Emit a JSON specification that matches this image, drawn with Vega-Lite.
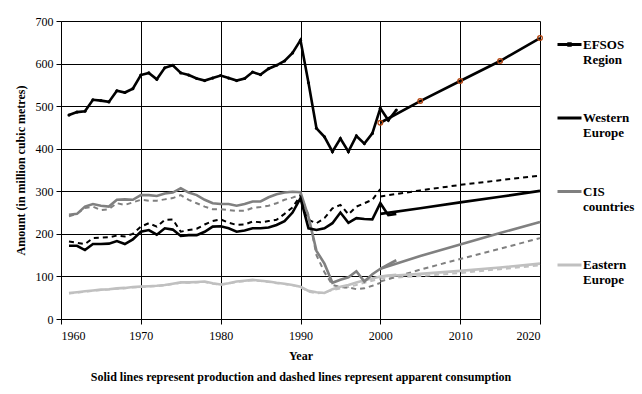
{
  "$schema": "https://vega.github.io/schema/vega-lite/v6.json",
  "width": 479,
  "height": 298,
  "autosize": {"type": "none"},
  "padding": {"left": 61, "top": 21, "right": 102, "bottom": 75},
  "background": "#ffffff",
  "config": {
    "view": {"stroke": null},
    "font": "Liberation Serif",
    "axis": {
      "labelFont": "Liberation Serif", "labelFontSize": 12, "labelColor": "#000000",
      "titleFont": "Liberation Serif", "titleFontSize": 12, "titleFontWeight": "bold", "titleColor": "#000000",
      "domainColor": "#000000", "tickColor": "#000000", "gridColor": "#000000", "gridOpacity": 1, "gridWidth": 1, "tickSize": 5
    },
    "legend": {
      "labelFont": "Liberation Serif", "labelFontSize": 13, "labelFontWeight": "bold", "labelColor": "#000000"
    }
  },
  "datasets": {
    "prod": [
      {"region":"Eastern Europe","phase":"hist","year":1961,"value":61},{"region":"Eastern Europe","phase":"hist","year":1962,"value":63},{"region":"Eastern Europe","phase":"hist","year":1963,"value":65},{"region":"Eastern Europe","phase":"hist","year":1964,"value":67},{"region":"Eastern Europe","phase":"hist","year":1965,"value":69},{"region":"Eastern Europe","phase":"hist","year":1966,"value":70},{"region":"Eastern Europe","phase":"hist","year":1967,"value":72},{"region":"Eastern Europe","phase":"hist","year":1968,"value":73},{"region":"Eastern Europe","phase":"hist","year":1969,"value":75},{"region":"Eastern Europe","phase":"hist","year":1970,"value":76},{"region":"Eastern Europe","phase":"hist","year":1971,"value":77},{"region":"Eastern Europe","phase":"hist","year":1972,"value":78},{"region":"Eastern Europe","phase":"hist","year":1973,"value":80},{"region":"Eastern Europe","phase":"hist","year":1974,"value":83},{"region":"Eastern Europe","phase":"hist","year":1975,"value":86},{"region":"Eastern Europe","phase":"hist","year":1976,"value":86},{"region":"Eastern Europe","phase":"hist","year":1977,"value":87},{"region":"Eastern Europe","phase":"hist","year":1978,"value":88},{"region":"Eastern Europe","phase":"hist","year":1979,"value":84},{"region":"Eastern Europe","phase":"hist","year":1980,"value":81},{"region":"Eastern Europe","phase":"hist","year":1981,"value":84},{"region":"Eastern Europe","phase":"hist","year":1982,"value":88},{"region":"Eastern Europe","phase":"hist","year":1983,"value":90},{"region":"Eastern Europe","phase":"hist","year":1984,"value":92},{"region":"Eastern Europe","phase":"hist","year":1985,"value":90},{"region":"Eastern Europe","phase":"hist","year":1986,"value":88},{"region":"Eastern Europe","phase":"hist","year":1987,"value":85},{"region":"Eastern Europe","phase":"hist","year":1988,"value":83},{"region":"Eastern Europe","phase":"hist","year":1989,"value":80},{"region":"Eastern Europe","phase":"hist","year":1990,"value":76},{"region":"Eastern Europe","phase":"hist","year":1991,"value":66},{"region":"Eastern Europe","phase":"hist","year":1992,"value":63},{"region":"Eastern Europe","phase":"hist","year":1993,"value":61},{"region":"Eastern Europe","phase":"hist","year":1994,"value":70},{"region":"Eastern Europe","phase":"hist","year":1995,"value":76},{"region":"Eastern Europe","phase":"hist","year":1996,"value":80},{"region":"Eastern Europe","phase":"hist","year":1997,"value":86},{"region":"Eastern Europe","phase":"hist","year":1998,"value":91},{"region":"Eastern Europe","phase":"hist","year":1999,"value":95},{"region":"Eastern Europe","phase":"hist","year":2000,"value":100},{"region":"Eastern Europe","phase":"hist","year":2001,"value":102},{"region":"Eastern Europe","phase":"hist","year":2002,"value":104},
      {"region":"Eastern Europe","phase":"proj","year":2000,"value":100},{"region":"Eastern Europe","phase":"proj","year":2005,"value":106},{"region":"Eastern Europe","phase":"proj","year":2010,"value":113},{"region":"Eastern Europe","phase":"proj","year":2015,"value":121},{"region":"Eastern Europe","phase":"proj","year":2020,"value":130},
      {"region":"CIS countries","phase":"hist","year":1961,"value":245},{"region":"CIS countries","phase":"hist","year":1962,"value":247},{"region":"CIS countries","phase":"hist","year":1963,"value":264},{"region":"CIS countries","phase":"hist","year":1964,"value":270},{"region":"CIS countries","phase":"hist","year":1965,"value":266},{"region":"CIS countries","phase":"hist","year":1966,"value":264},{"region":"CIS countries","phase":"hist","year":1967,"value":280},{"region":"CIS countries","phase":"hist","year":1968,"value":281},{"region":"CIS countries","phase":"hist","year":1969,"value":280},{"region":"CIS countries","phase":"hist","year":1970,"value":291},{"region":"CIS countries","phase":"hist","year":1971,"value":291},{"region":"CIS countries","phase":"hist","year":1972,"value":289},{"region":"CIS countries","phase":"hist","year":1973,"value":295},{"region":"CIS countries","phase":"hist","year":1974,"value":297},{"region":"CIS countries","phase":"hist","year":1975,"value":307},{"region":"CIS countries","phase":"hist","year":1976,"value":297},{"region":"CIS countries","phase":"hist","year":1977,"value":291},{"region":"CIS countries","phase":"hist","year":1978,"value":280},{"region":"CIS countries","phase":"hist","year":1979,"value":272},{"region":"CIS countries","phase":"hist","year":1980,"value":270},{"region":"CIS countries","phase":"hist","year":1981,"value":270},{"region":"CIS countries","phase":"hist","year":1982,"value":266},{"region":"CIS countries","phase":"hist","year":1983,"value":270},{"region":"CIS countries","phase":"hist","year":1984,"value":276},{"region":"CIS countries","phase":"hist","year":1985,"value":276},{"region":"CIS countries","phase":"hist","year":1986,"value":286},{"region":"CIS countries","phase":"hist","year":1987,"value":293},{"region":"CIS countries","phase":"hist","year":1988,"value":297},{"region":"CIS countries","phase":"hist","year":1989,"value":299},{"region":"CIS countries","phase":"hist","year":1990,"value":298},{"region":"CIS countries","phase":"hist","year":1991,"value":240},{"region":"CIS countries","phase":"hist","year":1992,"value":160},{"region":"CIS countries","phase":"hist","year":1993,"value":130},{"region":"CIS countries","phase":"hist","year":1994,"value":85},{"region":"CIS countries","phase":"hist","year":1995,"value":92},{"region":"CIS countries","phase":"hist","year":1996,"value":98},{"region":"CIS countries","phase":"hist","year":1997,"value":112},{"region":"CIS countries","phase":"hist","year":1998,"value":88},{"region":"CIS countries","phase":"hist","year":1999,"value":105},{"region":"CIS countries","phase":"hist","year":2000,"value":118},{"region":"CIS countries","phase":"hist","year":2001,"value":128},{"region":"CIS countries","phase":"hist","year":2002,"value":138},
      {"region":"CIS countries","phase":"proj","year":2000,"value":118},{"region":"CIS countries","phase":"proj","year":2005,"value":148},{"region":"CIS countries","phase":"proj","year":2010,"value":175},{"region":"CIS countries","phase":"proj","year":2015,"value":202},{"region":"CIS countries","phase":"proj","year":2020,"value":228},
      {"region":"Western Europe","phase":"hist","year":1961,"value":172},{"region":"Western Europe","phase":"hist","year":1962,"value":172},{"region":"Western Europe","phase":"hist","year":1963,"value":162},{"region":"Western Europe","phase":"hist","year":1964,"value":176},{"region":"Western Europe","phase":"hist","year":1965,"value":176},{"region":"Western Europe","phase":"hist","year":1966,"value":177},{"region":"Western Europe","phase":"hist","year":1967,"value":183},{"region":"Western Europe","phase":"hist","year":1968,"value":176},{"region":"Western Europe","phase":"hist","year":1969,"value":187},{"region":"Western Europe","phase":"hist","year":1970,"value":205},{"region":"Western Europe","phase":"hist","year":1971,"value":209},{"region":"Western Europe","phase":"hist","year":1972,"value":198},{"region":"Western Europe","phase":"hist","year":1973,"value":213},{"region":"Western Europe","phase":"hist","year":1974,"value":210},{"region":"Western Europe","phase":"hist","year":1975,"value":195},{"region":"Western Europe","phase":"hist","year":1976,"value":197},{"region":"Western Europe","phase":"hist","year":1977,"value":197},{"region":"Western Europe","phase":"hist","year":1978,"value":205},{"region":"Western Europe","phase":"hist","year":1979,"value":217},{"region":"Western Europe","phase":"hist","year":1980,"value":218},{"region":"Western Europe","phase":"hist","year":1981,"value":213},{"region":"Western Europe","phase":"hist","year":1982,"value":205},{"region":"Western Europe","phase":"hist","year":1983,"value":208},{"region":"Western Europe","phase":"hist","year":1984,"value":213},{"region":"Western Europe","phase":"hist","year":1985,"value":213},{"region":"Western Europe","phase":"hist","year":1986,"value":215},{"region":"Western Europe","phase":"hist","year":1987,"value":221},{"region":"Western Europe","phase":"hist","year":1988,"value":230},{"region":"Western Europe","phase":"hist","year":1989,"value":250},{"region":"Western Europe","phase":"hist","year":1990,"value":284},{"region":"Western Europe","phase":"hist","year":1991,"value":213},{"region":"Western Europe","phase":"hist","year":1992,"value":209},{"region":"Western Europe","phase":"hist","year":1993,"value":213},{"region":"Western Europe","phase":"hist","year":1994,"value":225},{"region":"Western Europe","phase":"hist","year":1995,"value":250},{"region":"Western Europe","phase":"hist","year":1996,"value":226},{"region":"Western Europe","phase":"hist","year":1997,"value":237},{"region":"Western Europe","phase":"hist","year":1998,"value":235},{"region":"Western Europe","phase":"hist","year":1999,"value":234},{"region":"Western Europe","phase":"hist","year":2000,"value":272},{"region":"Western Europe","phase":"hist","year":2001,"value":244},{"region":"Western Europe","phase":"hist","year":2002,"value":247},
      {"region":"Western Europe","phase":"proj","year":2000,"value":247},{"region":"Western Europe","phase":"proj","year":2005,"value":260},{"region":"Western Europe","phase":"proj","year":2010,"value":274},{"region":"Western Europe","phase":"proj","year":2015,"value":287},{"region":"Western Europe","phase":"proj","year":2020,"value":301},
      {"region":"EFSOS Region","phase":"hist","year":1961,"value":479},{"region":"EFSOS Region","phase":"hist","year":1962,"value":486},{"region":"EFSOS Region","phase":"hist","year":1963,"value":488},{"region":"EFSOS Region","phase":"hist","year":1964,"value":515},{"region":"EFSOS Region","phase":"hist","year":1965,"value":513},{"region":"EFSOS Region","phase":"hist","year":1966,"value":510},{"region":"EFSOS Region","phase":"hist","year":1967,"value":536},{"region":"EFSOS Region","phase":"hist","year":1968,"value":532},{"region":"EFSOS Region","phase":"hist","year":1969,"value":541},{"region":"EFSOS Region","phase":"hist","year":1970,"value":573},{"region":"EFSOS Region","phase":"hist","year":1971,"value":578},{"region":"EFSOS Region","phase":"hist","year":1972,"value":563},{"region":"EFSOS Region","phase":"hist","year":1973,"value":590},{"region":"EFSOS Region","phase":"hist","year":1974,"value":596},{"region":"EFSOS Region","phase":"hist","year":1975,"value":578},{"region":"EFSOS Region","phase":"hist","year":1976,"value":573},{"region":"EFSOS Region","phase":"hist","year":1977,"value":565},{"region":"EFSOS Region","phase":"hist","year":1978,"value":560},{"region":"EFSOS Region","phase":"hist","year":1979,"value":566},{"region":"EFSOS Region","phase":"hist","year":1980,"value":572},{"region":"EFSOS Region","phase":"hist","year":1981,"value":566},{"region":"EFSOS Region","phase":"hist","year":1982,"value":560},{"region":"EFSOS Region","phase":"hist","year":1983,"value":565},{"region":"EFSOS Region","phase":"hist","year":1984,"value":580},{"region":"EFSOS Region","phase":"hist","year":1985,"value":574},{"region":"EFSOS Region","phase":"hist","year":1986,"value":588},{"region":"EFSOS Region","phase":"hist","year":1987,"value":596},{"region":"EFSOS Region","phase":"hist","year":1988,"value":606},{"region":"EFSOS Region","phase":"hist","year":1989,"value":625},{"region":"EFSOS Region","phase":"hist","year":1990,"value":655},{"region":"EFSOS Region","phase":"hist","year":1991,"value":555},{"region":"EFSOS Region","phase":"hist","year":1992,"value":448},{"region":"EFSOS Region","phase":"hist","year":1993,"value":428},{"region":"EFSOS Region","phase":"hist","year":1994,"value":393},{"region":"EFSOS Region","phase":"hist","year":1995,"value":424},{"region":"EFSOS Region","phase":"hist","year":1996,"value":393},{"region":"EFSOS Region","phase":"hist","year":1997,"value":430},{"region":"EFSOS Region","phase":"hist","year":1998,"value":412},{"region":"EFSOS Region","phase":"hist","year":1999,"value":436},{"region":"EFSOS Region","phase":"hist","year":2000,"value":495},{"region":"EFSOS Region","phase":"hist","year":2001,"value":467},{"region":"EFSOS Region","phase":"hist","year":2002,"value":491},
      {"region":"EFSOS Region","phase":"proj","year":2000,"value":461},{"region":"EFSOS Region","phase":"proj","year":2005,"value":512},{"region":"EFSOS Region","phase":"proj","year":2010,"value":559},{"region":"EFSOS Region","phase":"proj","year":2015,"value":606},{"region":"EFSOS Region","phase":"proj","year":2020,"value":660}
    ],
    "cons": [
      {"region":"Eastern Europe","phase":"hist","year":1961,"value":60},{"region":"Eastern Europe","phase":"hist","year":1962,"value":62},{"region":"Eastern Europe","phase":"hist","year":1963,"value":64},{"region":"Eastern Europe","phase":"hist","year":1964,"value":66},{"region":"Eastern Europe","phase":"hist","year":1965,"value":68},{"region":"Eastern Europe","phase":"hist","year":1966,"value":69},{"region":"Eastern Europe","phase":"hist","year":1967,"value":71},{"region":"Eastern Europe","phase":"hist","year":1968,"value":72},{"region":"Eastern Europe","phase":"hist","year":1969,"value":74},{"region":"Eastern Europe","phase":"hist","year":1970,"value":75},{"region":"Eastern Europe","phase":"hist","year":1971,"value":76},{"region":"Eastern Europe","phase":"hist","year":1972,"value":77},{"region":"Eastern Europe","phase":"hist","year":1973,"value":79},{"region":"Eastern Europe","phase":"hist","year":1974,"value":82},{"region":"Eastern Europe","phase":"hist","year":1975,"value":85},{"region":"Eastern Europe","phase":"hist","year":1976,"value":85},{"region":"Eastern Europe","phase":"hist","year":1977,"value":86},{"region":"Eastern Europe","phase":"hist","year":1978,"value":87},{"region":"Eastern Europe","phase":"hist","year":1979,"value":83},{"region":"Eastern Europe","phase":"hist","year":1980,"value":80},{"region":"Eastern Europe","phase":"hist","year":1981,"value":83},{"region":"Eastern Europe","phase":"hist","year":1982,"value":87},{"region":"Eastern Europe","phase":"hist","year":1983,"value":89},{"region":"Eastern Europe","phase":"hist","year":1984,"value":91},{"region":"Eastern Europe","phase":"hist","year":1985,"value":89},{"region":"Eastern Europe","phase":"hist","year":1986,"value":87},{"region":"Eastern Europe","phase":"hist","year":1987,"value":84},{"region":"Eastern Europe","phase":"hist","year":1988,"value":82},{"region":"Eastern Europe","phase":"hist","year":1989,"value":79},{"region":"Eastern Europe","phase":"hist","year":1990,"value":75},{"region":"Eastern Europe","phase":"hist","year":1991,"value":64},{"region":"Eastern Europe","phase":"hist","year":1992,"value":60},{"region":"Eastern Europe","phase":"hist","year":1993,"value":62},{"region":"Eastern Europe","phase":"hist","year":1994,"value":68},{"region":"Eastern Europe","phase":"hist","year":1995,"value":72},{"region":"Eastern Europe","phase":"hist","year":1996,"value":75},{"region":"Eastern Europe","phase":"hist","year":1997,"value":80},{"region":"Eastern Europe","phase":"hist","year":1998,"value":85},{"region":"Eastern Europe","phase":"hist","year":1999,"value":90},{"region":"Eastern Europe","phase":"hist","year":2000,"value":94},
      {"region":"Eastern Europe","phase":"proj","year":2000,"value":95},{"region":"Eastern Europe","phase":"proj","year":2005,"value":101},{"region":"Eastern Europe","phase":"proj","year":2010,"value":108},{"region":"Eastern Europe","phase":"proj","year":2015,"value":117},{"region":"Eastern Europe","phase":"proj","year":2020,"value":126},
      {"region":"CIS countries","phase":"hist","year":1961,"value":241},{"region":"CIS countries","phase":"hist","year":1962,"value":247},{"region":"CIS countries","phase":"hist","year":1963,"value":261},{"region":"CIS countries","phase":"hist","year":1964,"value":264},{"region":"CIS countries","phase":"hist","year":1965,"value":256},{"region":"CIS countries","phase":"hist","year":1966,"value":258},{"region":"CIS countries","phase":"hist","year":1967,"value":272},{"region":"CIS countries","phase":"hist","year":1968,"value":268},{"region":"CIS countries","phase":"hist","year":1969,"value":274},{"region":"CIS countries","phase":"hist","year":1970,"value":280},{"region":"CIS countries","phase":"hist","year":1971,"value":278},{"region":"CIS countries","phase":"hist","year":1972,"value":278},{"region":"CIS countries","phase":"hist","year":1973,"value":281},{"region":"CIS countries","phase":"hist","year":1974,"value":284},{"region":"CIS countries","phase":"hist","year":1975,"value":291},{"region":"CIS countries","phase":"hist","year":1976,"value":280},{"region":"CIS countries","phase":"hist","year":1977,"value":272},{"region":"CIS countries","phase":"hist","year":1978,"value":264},{"region":"CIS countries","phase":"hist","year":1979,"value":258},{"region":"CIS countries","phase":"hist","year":1980,"value":258},{"region":"CIS countries","phase":"hist","year":1981,"value":256},{"region":"CIS countries","phase":"hist","year":1982,"value":254},{"region":"CIS countries","phase":"hist","year":1983,"value":254},{"region":"CIS countries","phase":"hist","year":1984,"value":261},{"region":"CIS countries","phase":"hist","year":1985,"value":263},{"region":"CIS countries","phase":"hist","year":1986,"value":266},{"region":"CIS countries","phase":"hist","year":1987,"value":272},{"region":"CIS countries","phase":"hist","year":1988,"value":280},{"region":"CIS countries","phase":"hist","year":1989,"value":285},{"region":"CIS countries","phase":"hist","year":1990,"value":292},{"region":"CIS countries","phase":"hist","year":1991,"value":245},{"region":"CIS countries","phase":"hist","year":1992,"value":150},{"region":"CIS countries","phase":"hist","year":1993,"value":110},{"region":"CIS countries","phase":"hist","year":1994,"value":80},{"region":"CIS countries","phase":"hist","year":1995,"value":75},{"region":"CIS countries","phase":"hist","year":1996,"value":74},{"region":"CIS countries","phase":"hist","year":1997,"value":70},{"region":"CIS countries","phase":"hist","year":1998,"value":72},{"region":"CIS countries","phase":"hist","year":1999,"value":78},{"region":"CIS countries","phase":"hist","year":2000,"value":85},
      {"region":"CIS countries","phase":"proj","year":2000,"value":88},{"region":"CIS countries","phase":"proj","year":2005,"value":116},{"region":"CIS countries","phase":"proj","year":2010,"value":141},{"region":"CIS countries","phase":"proj","year":2015,"value":165},{"region":"CIS countries","phase":"proj","year":2020,"value":190},
      {"region":"Western Europe","phase":"hist","year":1961,"value":182},{"region":"Western Europe","phase":"hist","year":1962,"value":179},{"region":"Western Europe","phase":"hist","year":1963,"value":176},{"region":"Western Europe","phase":"hist","year":1964,"value":190},{"region":"Western Europe","phase":"hist","year":1965,"value":191},{"region":"Western Europe","phase":"hist","year":1966,"value":192},{"region":"Western Europe","phase":"hist","year":1967,"value":196},{"region":"Western Europe","phase":"hist","year":1968,"value":194},{"region":"Western Europe","phase":"hist","year":1969,"value":200},{"region":"Western Europe","phase":"hist","year":1970,"value":217},{"region":"Western Europe","phase":"hist","year":1971,"value":225},{"region":"Western Europe","phase":"hist","year":1972,"value":217},{"region":"Western Europe","phase":"hist","year":1973,"value":233},{"region":"Western Europe","phase":"hist","year":1974,"value":234},{"region":"Western Europe","phase":"hist","year":1975,"value":205},{"region":"Western Europe","phase":"hist","year":1976,"value":209},{"region":"Western Europe","phase":"hist","year":1977,"value":212},{"region":"Western Europe","phase":"hist","year":1978,"value":222},{"region":"Western Europe","phase":"hist","year":1979,"value":230},{"region":"Western Europe","phase":"hist","year":1980,"value":234},{"region":"Western Europe","phase":"hist","year":1981,"value":226},{"region":"Western Europe","phase":"hist","year":1982,"value":221},{"region":"Western Europe","phase":"hist","year":1983,"value":222},{"region":"Western Europe","phase":"hist","year":1984,"value":229},{"region":"Western Europe","phase":"hist","year":1985,"value":227},{"region":"Western Europe","phase":"hist","year":1986,"value":230},{"region":"Western Europe","phase":"hist","year":1987,"value":233},{"region":"Western Europe","phase":"hist","year":1988,"value":247},{"region":"Western Europe","phase":"hist","year":1989,"value":262},{"region":"Western Europe","phase":"hist","year":1990,"value":290},{"region":"Western Europe","phase":"hist","year":1991,"value":233},{"region":"Western Europe","phase":"hist","year":1992,"value":225},{"region":"Western Europe","phase":"hist","year":1993,"value":237},{"region":"Western Europe","phase":"hist","year":1994,"value":260},{"region":"Western Europe","phase":"hist","year":1995,"value":268},{"region":"Western Europe","phase":"hist","year":1996,"value":246},{"region":"Western Europe","phase":"hist","year":1997,"value":264},{"region":"Western Europe","phase":"hist","year":1998,"value":272},{"region":"Western Europe","phase":"hist","year":1999,"value":280},{"region":"Western Europe","phase":"hist","year":2000,"value":305},
      {"region":"Western Europe","phase":"proj","year":2000,"value":288},{"region":"Western Europe","phase":"proj","year":2005,"value":302},{"region":"Western Europe","phase":"proj","year":2010,"value":315},{"region":"Western Europe","phase":"proj","year":2015,"value":326},{"region":"Western Europe","phase":"proj","year":2020,"value":337}
    ]
  },
  "resolve": {"scale": {"color": "independent"}, "legend": {"color": "independent"}},
  "layer": [
    {
      "data": {"name": "cons"},
      "mark": {"type": "line", "strokeWidth": 2, "strokeDash": [5, 4]},
      "encoding": {
        "x": {"field": "year", "type": "quantitative"},
        "y": {"field": "value", "type": "quantitative"},
        "color": {"field": "region", "type": "nominal", "legend": null,
          "scale": {"domain": ["EFSOS Region", "Western Europe", "CIS countries", "Eastern Europe"], "range": ["#000000", "#000000", "#808080", "#c0c0c0"]}},
        "detail": {"field": "phase"}
      }
    },
    {
      "data": {"name": "prod"},
      "mark": {"type": "line", "strokeWidth": 2.6},
      "encoding": {
        "x": {"field": "year", "type": "quantitative",
          "scale": {"domain": [1960, 2020], "nice": false, "zero": false},
          "axis": {"values": [1960, 1970, 1980, 1990, 2000, 2010, 2020], "format": "d", "grid": true, "labelPadding": 6,
            "title": ["Year", "Solid lines represent production and dashed lines represent apparent consumption"],
            "titlePadding": 9, "titleLineHeight": 21}},
        "y": {"field": "value", "type": "quantitative",
          "scale": {"domain": [0, 700], "nice": false},
          "axis": {"values": [0, 100, 200, 300, 400, 500, 600, 700], "grid": true, "labelPadding": 3,
            "title": "Amount (in million cubic metres)", "titlePadding": 8}},
        "color": {"field": "region", "type": "nominal",
          "scale": {"domain": ["EFSOS Region", "Western Europe", "CIS countries", "Eastern Europe"], "range": ["#000000", "#000000", "#808080", "#c0c0c0"]},
          "legend": {"title": null, "orient": "none", "legendX": 495, "legendY": 10,
            "symbolType": "stroke", "symbolSize": 576, "symbolStrokeWidth": 3,
            "rowPadding": 37.5, "labelOffset": 0, "labelLimit": 0,
            "labelExpr": "split(datum.label, ' ')",
            "encode": {"symbols": {"update": {"shape": {"signal": "datum.value === 'EFSOS Region' ? 'M-1,0H1M-0.06,-0.06H0.06V0.06H-0.06Z' : 'stroke'"}}}}}},
        "detail": {"field": "phase"}
      }
    },
    {
      "data": {"name": "prod"},
      "transform": [{"filter": "datum.region === 'EFSOS Region' && datum.phase === 'hist'"}],
      "mark": {"type": "point", "filled": true, "size": 10, "color": "#000000", "opacity": 1},
      "encoding": {
        "x": {"field": "year", "type": "quantitative"},
        "y": {"field": "value", "type": "quantitative"}
      }
    },
    {
      "data": {"name": "prod"},
      "transform": [{"filter": "datum.region === 'EFSOS Region' && datum.phase === 'proj'"}],
      "mark": {"type": "point", "filled": false, "size": 22, "stroke": "#b4440e", "strokeWidth": 1.3, "opacity": 1},
      "encoding": {
        "x": {"field": "year", "type": "quantitative"},
        "y": {"field": "value", "type": "quantitative"}
      }
    }
  ]
}
